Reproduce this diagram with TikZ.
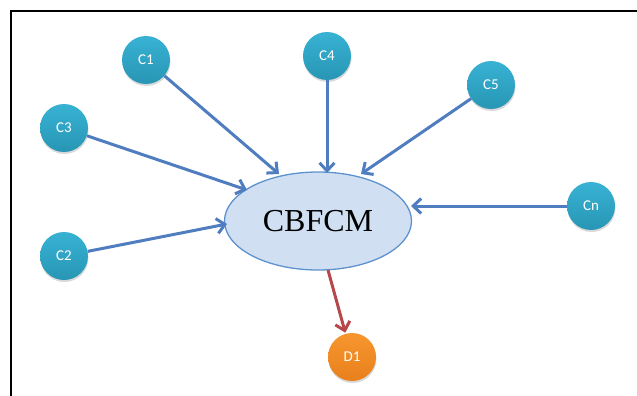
\documentclass[tikz,border=0pt]{standalone}
\usepackage{fontspec}
\setmainfont{Liberation Serif}
\newfontfamily\cfont{Carlito}
\usetikzlibrary{arrows.meta,shapes.geometric,shadows}
\definecolor{tealA}{HTML}{38B2D4}
\definecolor{tealB}{HTML}{2896B4}
\definecolor{oraA}{HTML}{F7962E}
\definecolor{oraB}{HTML}{E8801C}
\definecolor{ellfill}{HTML}{D0E0F2}
\definecolor{elldraw}{HTML}{5E92CC}
\definecolor{arrblue}{HTML}{4F7DC0}
\definecolor{arrred}{HTML}{B6474A}
\tikzset{
  cnode/.style={circle,minimum size=48pt,inner sep=0pt,top color=tealA,bottom color=tealB,
    text=white,font={\fontsize{15}{15}\selectfont\cfont},
    drop shadow={shadow xshift=0.5pt,shadow yshift=-2pt,opacity=0.3}},
  dnode/.style={cnode,top color=oraA,bottom color=oraB},
  core/.style={ellipse,minimum width=187pt,minimum height=98pt,fill=ellfill,draw=elldraw,line width=1.3pt,
    font=\fontsize{32}{32}\selectfont},
  link/.style={draw=arrblue,line width=3pt,-{Straight Barb[length=8pt,width=15pt,line width=3pt]}},
  rlink/.style={link,draw=arrred},
}
\begin{document}
\begin{tikzpicture}[x=1pt,y=-1pt]
\useasboundingbox (0,0) rectangle (637,396);
\draw[line width=1.3pt] (11,396) -- (11,11) -- (637,11);
\node[core] (cb) at (318,221) {CBFCM};
\node[cnode] (c1) at (146,60) {C1};
\node[cnode] (c4) at (327,56) {C4};
\node[cnode] (c5) at (491,85) {C5};
\node[cnode] (c3) at (64,128) {C3};
\node[cnode] (c2) at (64,256) {C2};
\node[cnode] (cn) at (591,206) {Cn};
\node[dnode] (d1) at (352,357) {D1};
\coordinate (e1) at (279,174);
\coordinate (e4) at (327,173);
\coordinate (e5) at (361,174);
\coordinate (e3) at (247,190);
\coordinate (e2) at (227,224);
\coordinate (en) at (411,206);
\coordinate (s1) at (328,270);
\draw[link] (c1) -- (e1);
\draw[link] (c4) -- (e4);
\draw[link] (c5) -- (e5);
\draw[link] (c3) -- (e3);
\draw[link] (c2) -- (e2);
\draw[link] (cn) -- (en);
\draw[rlink,shorten >=1pt] (s1) -- (d1);
\end{tikzpicture}
\end{document}
